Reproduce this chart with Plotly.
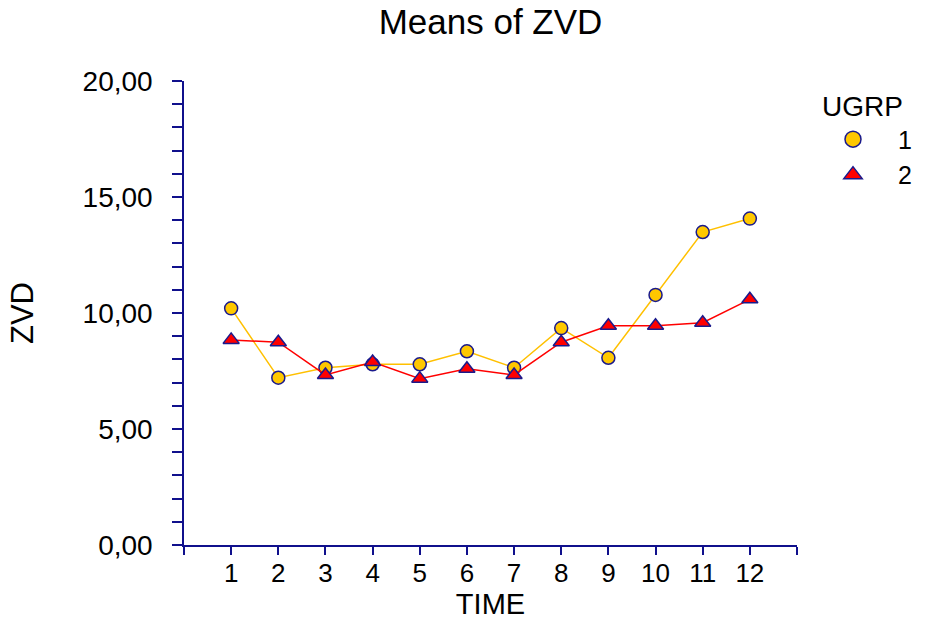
import plotly.graph_objects as go

time_labels = ["1", "2", "3", "4", "5", "6", "7", "8", "9", "10", "11", "12"]
time_pos = [1, 2, 3, 4, 5, 6, 7, 8, 9, 10, 11, 12]
grp1_means = [10.20, 7.21, 7.64, 7.79, 7.79, 8.35, 7.64, 9.35, 8.07, 10.78, 13.49, 14.07]
grp2_means = [8.84, 8.74, 7.33, 7.89, 7.17, 7.60, 7.33, 8.74, 9.45, 9.45, 9.58, 10.59]
group_names = ["1", "2"]
y_ticks = [0, 5, 10, 15, 20]

AXIS = "#10108C"
GOLD = "#FFC800"
RED = "#FF0000"
FONT = "Liberation Sans, Arial, sans-serif"

fig = go.Figure()
fig.add_trace(go.Scatter(
    x=time_pos, y=grp1_means, mode="lines+markers", showlegend=False,
    line=dict(color="#FFC000", width=1.5),
    marker=dict(symbol="circle", size=13, color=GOLD, line=dict(color="#1A1A8C", width=1.5)),
))
fig.add_trace(go.Scatter(
    x=time_pos, y=grp2_means, mode="lines+markers", showlegend=False,
    line=dict(color=RED, width=1.5),
    marker=dict(symbol="triangle-up", size=14, color=RED, line=dict(color="#1A1A8C", width=1.5)),
))
# legend entries (markers only, as in the reference legend)
fig.add_trace(go.Scatter(
    x=[None], y=[None], mode="markers", name=group_names[0],
    marker=dict(symbol="circle", size=20, color=GOLD, line=dict(color="#1A1A8C", width=1.5)),
))
fig.add_trace(go.Scatter(
    x=[None], y=[None], mode="markers", name=group_names[1],
    marker=dict(symbol="triangle-up", size=20, color=RED, line=dict(color="#1A1A8C", width=1.5)),
))

fig.update_layout(
    width=934, height=621,
    margin=dict(l=184, r=137, t=81, b=76, autoexpand=False),
    paper_bgcolor="white", plot_bgcolor="white",
    separators=", ",
    font=dict(family=FONT, color="black"),
    title=dict(text="Means of ZVD", x=0.5, xref="paper", y=1 - 22 / 621, yref="container",
               xanchor="center", yanchor="middle", font=dict(size=35, family=FONT, color="black")),
    legend=dict(
        title=dict(text="UGRP", side="top center", font=dict(size=28, family=FONT, color="black")),
        font=dict(size=25, family=FONT, color="black"),
        x=808 / 934, xref="container", xanchor="left",
        y=1 - 80 / 621, yref="container", yanchor="top",
        itemwidth=80, bgcolor="rgba(0,0,0,0)", tracegroupgap=0,
    ),
    xaxis=dict(
        range=[0, 13], tickmode="array", tickvals=list(range(14)),
        ticktext=[""] + time_labels + [""],
        showgrid=False, zeroline=False, showline=True, linecolor=AXIS, linewidth=1.5,
        ticks="outside", ticklen=8, tickcolor=AXIS, tickwidth=1.5,
        tickfont=dict(size=26, family=FONT, color="black"),
        ticklabelstandoff=-4,
        title=dict(text="TIME", font=dict(size=29, family=FONT, color="black"), standoff=2),
        fixedrange=True,
    ),
    yaxis=dict(
        range=[0, 20], tickmode="array", tickvals=y_ticks, tickformat=".2f",
        showgrid=False, zeroline=False, showline=True, linecolor=AXIS, linewidth=1.5,
        ticks="outside", ticklen=10, tickcolor=AXIS, tickwidth=1.5,
        minor=dict(dtick=1, ticks="outside", ticklen=10, tickcolor=AXIS, tickwidth=1.5, showgrid=False),
        tickfont=dict(size=28, family=FONT, color="black"),
        ticklabelstandoff=14,
        title=dict(text="ZVD", font=dict(size=31, family=FONT, color="black"), standoff=40),
        fixedrange=True,
    ),
)

fig.write_html("out.html", config={"displayModeBar": False},
               post_script="document.body.style.margin='0';")
